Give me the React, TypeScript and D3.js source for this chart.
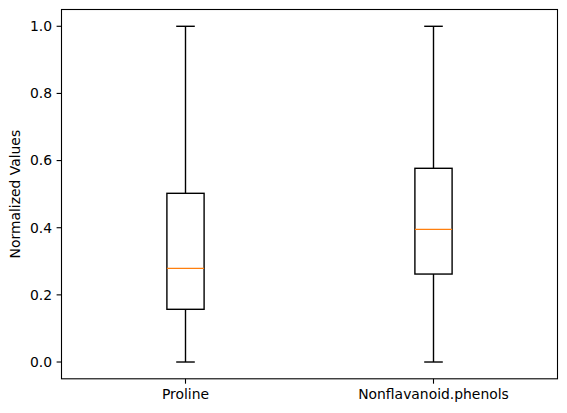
import React from "react";
import * as d3 from "d3";

const categories = ["Proline", "Nonflavanoid.phenols"];
const whiskerLow = [0.0, 0.0];
const q1 = [0.157, 0.262];
const median = [0.279, 0.395];
const q3 = [0.5025, 0.577];
const whiskerHigh = [1.0, 1.0];
const yTicks = [0.0, 0.2, 0.4, 0.6, 0.8, 1.0];

const W = 567, H = 413;
const left = 61.5, right = 557.5, top = 9.5, bottom = 378.8;

export default function App() {
  const x = d3.scaleLinear().domain([0.5, 2.5]).range([left, right]);
  const y = d3.scaleLinear().domain([-0.05, 1.05]).range([bottom, top]);
  const boxW = 0.15, capW = 0.075;
  const font = "DejaVu Sans, sans-serif";
  const fs = 13.9;
  return (
    <svg width={W} height={H} style={{ position: "absolute", left: 0, top: 0, background: "#fff" }}>
      <rect x={0} y={0} width={W} height={H} fill="#fff" />
      {categories.map((c, i) => {
        const p = i + 1;
        const cx = x(p);
        const bx0 = x(p - boxW / 2), bx1 = x(p + boxW / 2);
        const cx0 = x(p - capW / 2), cx1 = x(p + capW / 2);
        return (
          <g key={c} stroke="#000" strokeWidth={1.4} fill="none">
            <line x1={cx} x2={cx} y1={y(q1[i])} y2={y(whiskerLow[i])} />
            <line x1={cx} x2={cx} y1={y(q3[i])} y2={y(whiskerHigh[i])} />
            <line x1={cx0} x2={cx1} y1={y(whiskerLow[i])} y2={y(whiskerLow[i])} />
            <line x1={cx0} x2={cx1} y1={y(whiskerHigh[i])} y2={y(whiskerHigh[i])} />
            <rect x={bx0} y={y(q3[i])} width={bx1 - bx0} height={y(q1[i]) - y(q3[i])} />
            <line x1={bx0} x2={bx1} y1={y(median[i])} y2={y(median[i])} stroke="#ff7f0e" />
          </g>
        );
      })}
      <rect x={left} y={top} width={right - left} height={bottom - top} fill="none" stroke="#000" strokeWidth={1.1} />
      {yTicks.map((t) => (
        <g key={t}>
          <line x1={left - 4.9} x2={left} y1={y(t)} y2={y(t)} stroke="#000" strokeWidth={1.1} />
          <text x={left - 9.5} y={y(t)} dy="0.35em" textAnchor="end" fontFamily={font} fontSize={fs} fill="#000">
            {t.toFixed(1)}
          </text>
        </g>
      ))}
      {categories.map((c, i) => (
        <g key={c}>
          <line x1={x(i + 1)} x2={x(i + 1)} y1={bottom} y2={bottom + 4.9} stroke="#000" strokeWidth={1.1} />
          <text x={x(i + 1)} y={bottom + 9.5} dy="0.76em" textAnchor="middle" fontFamily={font} fontSize={fs} fill="#000">
            {c}
          </text>
        </g>
      ))}
      <text
        transform={`translate(${15.5},${(top + bottom) / 2}) rotate(-90)`}
        textAnchor="middle"
        dy="0.35em"
        fontFamily={font}
        fontSize={fs}
        fill="#000"
      >
        Normalized Values
      </text>
    </svg>
  );
}
